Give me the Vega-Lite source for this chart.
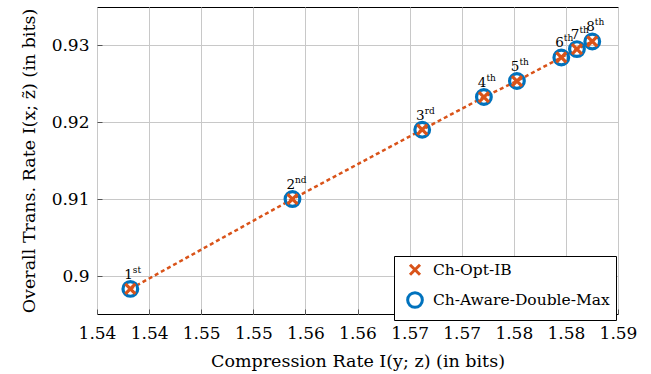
{
  "$schema": "https://vega.github.io/schema/vega-lite/v6.json",
  "autosize": "none",
  "width": 521,
  "height": 307,
  "padding": {"left": 97, "top": 7, "right": 33, "bottom": 60},
  "background": "white",
  "config": {
    "font": "DejaVu Serif",
    "view": {"stroke": "black", "strokeWidth": 1},
    "axis": {
      "domain": false,
      "grid": true,
      "gridColor": "#c8c8c8",
      "gridWidth": 1,
      "ticks": true,
      "tickSize": -5,
      "tickColor": "#555555",
      "labelFont": "DejaVu Serif",
      "labelFontSize": 17,
      "labelColor": "black",
      "titleFont": "DejaVu Serif",
      "titleFontSize": 17.5,
      "titleFontWeight": "normal",
      "titleColor": "black"
    },
    "legend": {
      "title": null,
      "labelFont": "DejaVu Serif",
      "labelFontSize": 15.5,
      "labelColor": "black",
      "labelLimit": 400,
      "orient": "none",
      "legendX": 297,
      "legendY": 249,
      "strokeColor": "black",
      "fillColor": "white",
      "padding": 6,
      "cornerRadius": 0,
      "labelOffset": 9,
      "symbolOffset": 6,
      "symbolStrokeWidth": 3,
      "rowPadding": 5
    }
  },
  "datasets": {
    "pts": [
      {"method": "Ch-Aware-Double-Max", "rate": 1.5382, "trans": 0.89836},
      {"method": "Ch-Aware-Double-Max", "rate": 1.55376, "trans": 0.91004},
      {"method": "Ch-Aware-Double-Max", "rate": 1.56621, "trans": 0.91905},
      {"method": "Ch-Aware-Double-Max", "rate": 1.57213, "trans": 0.9233},
      {"method": "Ch-Aware-Double-Max", "rate": 1.5753, "trans": 0.92538},
      {"method": "Ch-Aware-Double-Max", "rate": 1.57956, "trans": 0.92844},
      {"method": "Ch-Aware-Double-Max", "rate": 1.58106, "trans": 0.92953},
      {"method": "Ch-Aware-Double-Max", "rate": 1.58253, "trans": 0.93052},
      {"method": "Ch-Opt-IB", "rate": 1.5382, "trans": 0.89836, "n": "1", "sup": "st"},
      {"method": "Ch-Opt-IB", "rate": 1.55376, "trans": 0.91004, "n": "2", "sup": "nd"},
      {"method": "Ch-Opt-IB", "rate": 1.56621, "trans": 0.91905, "n": "3", "sup": "rd"},
      {"method": "Ch-Opt-IB", "rate": 1.57213, "trans": 0.9233, "n": "4", "sup": "th"},
      {"method": "Ch-Opt-IB", "rate": 1.5753, "trans": 0.92538, "n": "5", "sup": "th"},
      {"method": "Ch-Opt-IB", "rate": 1.57956, "trans": 0.92844, "n": "6", "sup": "th"},
      {"method": "Ch-Opt-IB", "rate": 1.58106, "trans": 0.92953, "n": "7", "sup": "th"},
      {"method": "Ch-Opt-IB", "rate": 1.58253, "trans": 0.93052, "n": "8", "sup": "th"}
    ]
  },
  "data": {"name": "pts"},
  "encoding": {
    "x": {
      "field": "rate",
      "type": "quantitative",
      "scale": {"domain": [1.535, 1.585], "nice": false, "zero": false},
      "axis": {
        "title": "Compression Rate I(y; z) (in bits)",
        "values": [1.535, 1.54, 1.545, 1.55, 1.555, 1.56, 1.565, 1.57, 1.575, 1.58, 1.585],
        "labelExpr": "format(round(datum.value*100+0.001)/100, '.2f')",
        "labelPadding": 16,
        "titlePadding": 11,
        "labelFlush": false,
        "labelOverlap": false
      }
    },
    "y": {
      "field": "trans",
      "type": "quantitative",
      "scale": {"domain": [0.8951, 0.935], "nice": false, "zero": false},
      "axis": {
        "title": "Overall Trans. Rate I(x; z̃) (in bits)",
        "values": [0.9, 0.91, 0.92, 0.93],
        "labelExpr": "toString(round(datum.value*100)/100)",
        "labelPadding": 13,
        "titlePadding": 13
      }
    }
  },
  "layer": [
    {
      "transform": [{"filter": "datum.method === 'Ch-Opt-IB'"}],
      "mark": {"type": "line", "color": "#D95319", "strokeWidth": 2.5, "strokeDash": [4, 3]}
    },
    {
      "mark": {"type": "point", "filled": false, "strokeWidth": 3.2, "opacity": 1},
      "encoding": {
        "color": {
          "field": "method",
          "type": "nominal",
          "scale": {"domain": ["Ch-Opt-IB", "Ch-Aware-Double-Max"], "range": ["#D95319", "#0072BD"]}
        },
        "shape": {
          "field": "method",
          "type": "nominal",
          "scale": {"domain": ["Ch-Opt-IB", "Ch-Aware-Double-Max"], "range": ["M-1,-1L1,1M-1,1L1,-1", "circle"]}
        },
        "size": {
          "field": "method",
          "type": "nominal",
          "scale": {"domain": ["Ch-Opt-IB", "Ch-Aware-Double-Max"], "range": [100, 216]}
        },
        "order": {"field": "method", "sort": "ascending"}
      }
    },
    {
      "transform": [{"filter": "datum.method === 'Ch-Opt-IB'"}],
      "mark": {"type": "text", "align": "right", "baseline": "alphabetic", "dx": 2.5, "dy": -10, "fontSize": 13.5, "font": "DejaVu Serif", "color": "black"},
      "encoding": {"text": {"field": "n"}}
    },
    {
      "transform": [{"filter": "datum.method === 'Ch-Opt-IB'"}],
      "mark": {"type": "text", "align": "left", "baseline": "alphabetic", "dx": 2.5, "dy": -16, "fontSize": 9, "font": "DejaVu Serif", "color": "black"},
      "encoding": {"text": {"field": "sup"}}
    }
  ]
}
